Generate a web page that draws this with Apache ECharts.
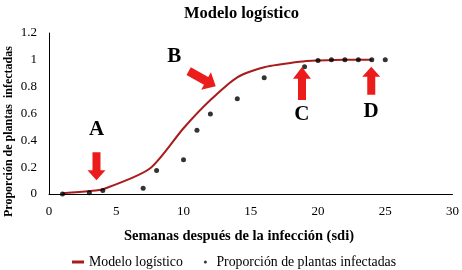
<!DOCTYPE html>
<html>
<head>
<meta charset="utf-8">
<script src="https://cdn.jsdelivr.net/npm/echarts@6/dist/echarts.min.js"></script>
<style>
  html, body { margin: 0; padding: 0; background: #fff; }
  #chart { width: 462px; height: 270px; }
</style>
</head>
<body>
<div id="chart"></div>
<script>
// semanas y proporcion observada
const semanasObs = [1, 3, 4, 7, 8, 10, 11, 12, 14, 16, 19, 20, 21, 22, 23, 24, 25];
const proporcionObs = [0, 0.01, 0.027, 0.043, 0.175, 0.255, 0.475, 0.597, 0.71, 0.867, 0.949, 0.995, 1, 1, 1, 1, 1];

// curva del modelo logistico
const semanasModelo = [1, 3, 4, 7.5, 10, 12, 14, 16, 19, 20, 22, 24];
const valoresModelo = [0.005, 0.022, 0.035, 0.19, 0.49, 0.70, 0.87, 0.945, 0.99, 0.995, 1, 1];

// anotaciones A B C D (posicion en unidades del grafico)
const letras = ['A', 'B', 'C', 'D'];
const letrasX = [3.53, 9.31, 18.8, 23.94];
const letrasY = [0.477, 1.024, 0.59, 0.614];
const flechasX = [3.53, 11.39, 18.81, 23.96];
const flechasY = [0.207, 0.859, 0.824, 0.844];

const serif = '"Liberation Serif", "DejaVu Serif", serif';
const rojo = '#eb1c1c';
const arrowPath = 'path://M9,0 L18,10 L13,10 L13,28 L5,28 L5,10 L0,10 Z';
const flechaSize = [[18, 28], [20, 31], [18, 33], [18, 28]];
const flechaRot = [180, -119, 0, 0];

const modelo = semanasModelo.map((s, i) => [s, valoresModelo[i]]);
const obs = semanasObs.map((s, i) => [s, proporcionObs[i]]);

const marcas = [];
letras.forEach((l, i) => {
  marcas.push({
    coord: [letrasX[i], letrasY[i]],
    symbol: 'circle', symbolSize: 0,
    label: { show: true, formatter: l, position: 'inside', color: '#000', fontFamily: serif, fontWeight: 'bold', fontSize: 21 }
  });
  marcas.push({
    coord: [flechasX[i], flechasY[i]],
    symbol: arrowPath, symbolKeepAspect: false,
    symbolSize: flechaSize[i], symbolRotate: flechaRot[i],
    itemStyle: { color: rojo },
    label: { show: false }
  });
});

const chart = echarts.init(document.getElementById('chart'));
chart.setOption({
  animation: false,
  title: {
    text: 'Modelo logístico', left: 179, top: 0,
    textStyle: { fontFamily: serif, fontWeight: 'bold', fontSize: 16.5, color: '#000' }
  },
  grid: { left: 49, right: 8, top: 33, bottom: 76 },
  xAxis: {
    type: 'value', min: 0, max: 30, interval: 5,
    axisLine: { lineStyle: { color: '#000', width: 1 } },
    axisTick: { show: false }, splitLine: { show: false },
    axisLabel: { color: '#000', fontFamily: serif, fontSize: 13, margin: 11 }
  },
  yAxis: {
    type: 'value', min: 0, max: 1.2, interval: 0.2,
    axisLine: { show: true, lineStyle: { color: '#000', width: 1 } },
    axisTick: { show: false }, splitLine: { show: false },
    axisLabel: { color: '#000', fontFamily: serif, fontSize: 13, margin: 12 }
  },
  legend: {
    top: 250, left: 67, itemWidth: 12, itemHeight: 3, itemGap: 21,
    textStyle: { fontFamily: serif, fontSize: 13.8, color: '#000' },
    data: [{ name: 'Modelo logístico', icon: 'rect' }, { name: 'Proporción de plantas infectadas', icon: 'circle' }]
  },
  graphic: [
    {
      type: 'text', left: 124, top: 229,
      style: { text: 'Semanas después de la infección (sdi)', font: 'bold 14.5px ' + serif, fill: '#000' }
    },
    {
      type: 'text', x: 3, y: 217, rotation: Math.PI / 2,
      style: { text: 'Proporción de plantas  infectadas', font: 'bold 12px ' + serif, fill: '#000', textAlign: 'left', textVerticalAlign: 'top' }
    }
  ],
  series: [
    {
      name: 'Modelo logístico', type: 'line', data: modelo,
      smooth: 0.25, showSymbol: false, z: 2,
      lineStyle: { color: '#a81c1c', width: 2 }, itemStyle: { color: '#a81c1c' }
    },
    {
      name: 'Proporción de plantas infectadas', type: 'scatter', data: obs,
      symbolSize: 5, z: 3, itemStyle: { color: '#000' },
      markPoint: { data: marcas, silent: true }
    }
  ]
});
</script>
</body>
</html>
